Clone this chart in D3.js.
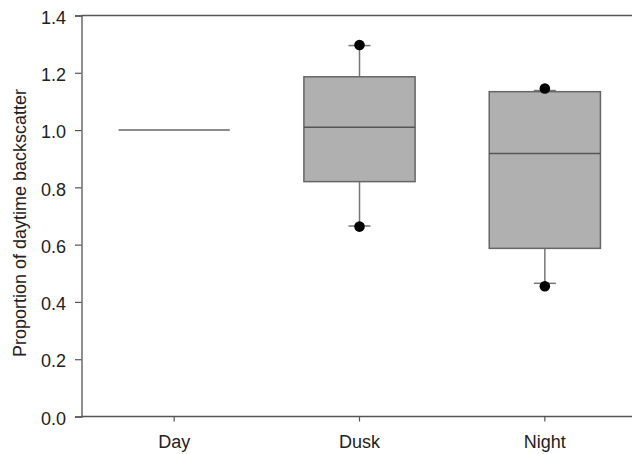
<!DOCTYPE html>
<html>
<head>
<meta charset="utf-8">
<script src="https://cdn.jsdelivr.net/npm/d3@7"></script>
<style>
  html, body { margin: 0; padding: 0; background: #fff; }
  svg { display: block; font-family: "Liberation Sans", Arial, sans-serif; }
</style>
</head>
<body>
<svg id="chart" width="632" height="454"></svg>
<script>
const categories = ["Day", "Dusk", "Night"];
const q1 =      [1.0, 0.820, 0.587];
const medians = [1.0, 1.010, 0.918];
const q3 =      [1.0, 1.186, 1.134];
const whiskerLow =  [1.0, 0.665, 0.465];
const whiskerHigh = [1.0, 1.295, 1.138];
const outlierLow =  [null, 0.663, 0.455];
const outlierHigh = [null, 1.297, 1.145];
const yTicks = [0, 0.2, 0.4, 0.6, 0.8, 1.0, 1.2, 1.4];

(function () {
const svg = d3.select("#chart");
const W = 632;
const mLeft = 81.5, mTop = 15.5, mBottom = 416.5;
const fs = 18;

const x = d3.scaleBand().domain(categories).range([mLeft, 637.5]).padding(0);
const y = d3.scaleLinear().domain([0, 1.4]).range([mBottom, mTop]);
const boxW = x.bandwidth() * 0.6;
const cx = c => x(c) + x.bandwidth() / 2;

const axisColor = "#555";

// frame: top line
svg.append("line").attr("x1", mLeft).attr("x2", W).attr("y1", mTop).attr("y2", mTop)
  .attr("stroke", axisColor).attr("stroke-width", 1.3);

// y axis
const yAxis = svg.append("g").attr("transform", `translate(${mLeft},0)`)
  .call(d3.axisLeft(y).tickValues(yTicks).tickFormat(d3.format(".1f")).tickSize(6.5).tickPadding(9));
yAxis.select(".domain").attr("stroke", axisColor).attr("stroke-width", 1.3);
yAxis.selectAll(".tick line").attr("stroke", axisColor).attr("stroke-width", 1.2);
yAxis.selectAll(".tick text").attr("font-size", fs).attr("fill", "#222").attr("dy", "0.43em")
  .attr("font-family", "Liberation Sans, Arial, sans-serif");

// x axis
const xAxis = svg.append("g").attr("transform", `translate(0,${mBottom})`)
  .call(d3.axisBottom(x).tickSize(5).tickPadding(15).tickSizeOuter(0));
xAxis.select(".domain").remove();
svg.append("line").attr("x1", mLeft).attr("x2", W).attr("y1", mBottom).attr("y2", mBottom)
  .attr("stroke", axisColor).attr("stroke-width", 1.3);
xAxis.selectAll(".tick line").attr("stroke", axisColor).attr("stroke-width", 1.2);
xAxis.selectAll(".tick text").attr("font-size", fs).attr("fill", "#222")
  .attr("y", 31.5).attr("dy", 0)
  .attr("font-family", "Liberation Sans, Arial, sans-serif");

// y label
svg.append("text")
  .attr("transform", `translate(26,223) rotate(-90)`)
  .attr("text-anchor", "middle")
  .attr("font-size", fs).attr("fill", "#222")
  .text("Proportion of daytime backscatter");

// boxes
categories.forEach((c, i) => {
  const xc = cx(c);
  const g = svg.append("g");
  if (q1[i] === q3[i]) {
    g.append("line").attr("x1", xc - boxW / 2).attr("x2", xc + boxW / 2)
      .attr("y1", y(medians[i])).attr("y2", y(medians[i]))
      .attr("stroke", "#666").attr("stroke-width", 1.5);
    return;
  }
  g.append("line").attr("x1", xc).attr("x2", xc).attr("y1", y(whiskerHigh[i])).attr("y2", y(q3[i]))
    .attr("stroke", "#777").attr("stroke-width", 1.5);
  g.append("line").attr("x1", xc).attr("x2", xc).attr("y1", y(q1[i])).attr("y2", y(whiskerLow[i]))
    .attr("stroke", "#777").attr("stroke-width", 1.5);
  [whiskerHigh[i], whiskerLow[i]].forEach(v => {
    g.append("line").attr("x1", xc - 11).attr("x2", xc + 11).attr("y1", y(v)).attr("y2", y(v))
      .attr("stroke", "#777").attr("stroke-width", 1.5);
  });
  g.append("rect").attr("x", xc - boxW / 2).attr("width", boxW)
    .attr("y", y(q3[i])).attr("height", y(q1[i]) - y(q3[i]))
    .attr("fill", "#b0b0b0").attr("stroke", "#666").attr("stroke-width", 1.5);
  g.append("line").attr("x1", xc - boxW / 2).attr("x2", xc + boxW / 2)
    .attr("y1", y(medians[i])).attr("y2", y(medians[i]))
    .attr("stroke", "#555").attr("stroke-width", 1.5);
  [outlierHigh[i], outlierLow[i]].forEach(v => {
    if (v == null) return;
    g.append("circle").attr("cx", xc).attr("cy", y(v)).attr("r", 5.3).attr("fill", "#000");
  });
});
})();
</script>
</body>
</html>
